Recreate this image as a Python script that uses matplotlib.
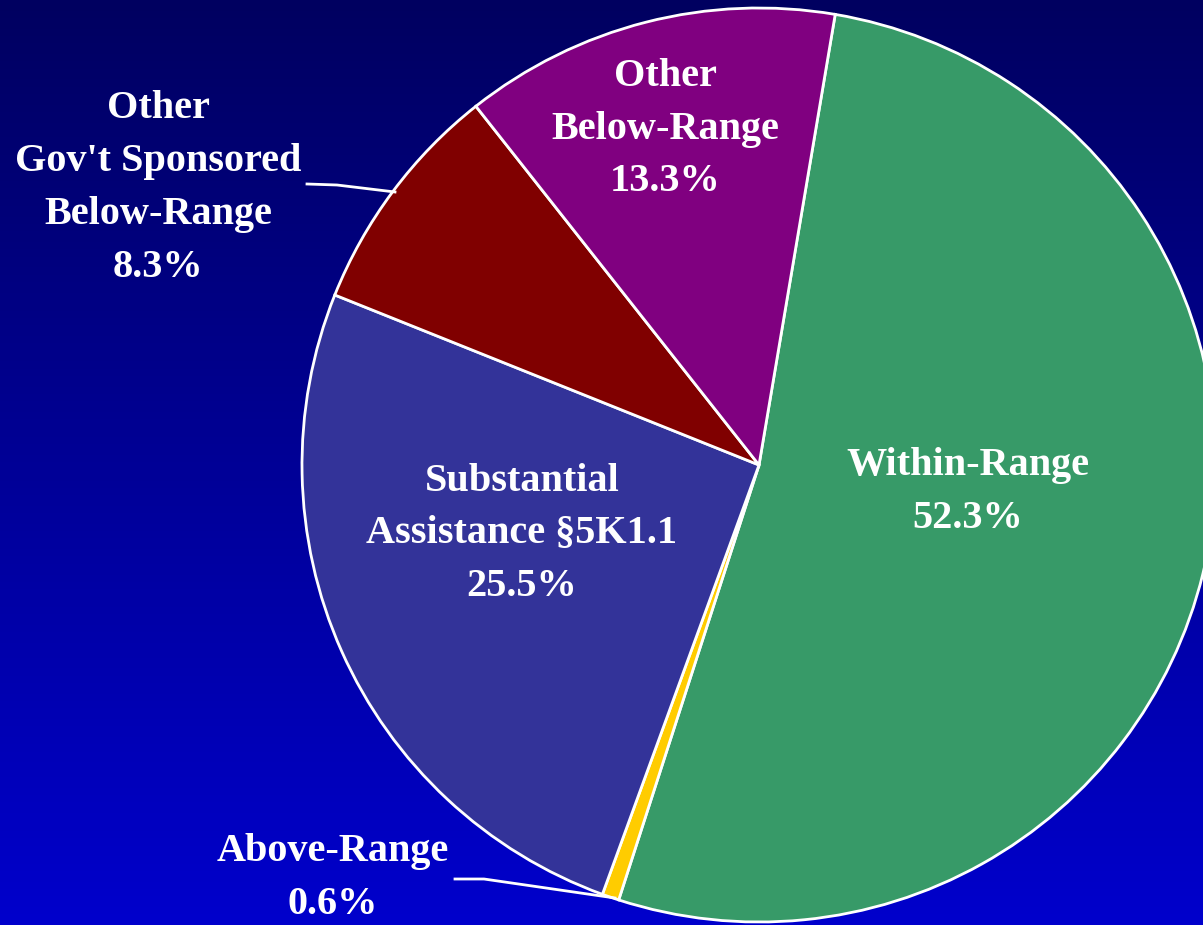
import matplotlib
matplotlib.use('Agg')
import matplotlib.pyplot as plt
import numpy as np

# slices, clockwise from the top
labels = ['Within-Range\n52.3%', 'Above-Range\n0.6%',
          'Substantial\nAssistance §5K1.1\n25.5%',
          "Other\nGov't Sponsored\nBelow-Range\n8.3%",
          'Other\nBelow-Range\n13.3%']
shares = [52.3, 0.6, 25.5, 8.3, 13.3]
colors = ['#379a68', '#ffcc00', '#333399', '#800000', '#800080']

W, H = 1203, 925
fig = plt.figure(figsize=(W / 100, H / 100), dpi=100)
ax = fig.add_axes([0, 0, 1, 1])

# background gradient, dark navy at top to blue at bottom
grad = np.linspace(0, 1, 256).reshape(-1, 1)
top = np.array([0x00, 0x00, 0x60]) / 255
bot = np.array([0x00, 0x00, 0xcc]) / 255
img = top + (bot - top) * grad[..., None]
ax.imshow(img, extent=[0, W, 0, H], origin='upper', aspect='auto', zorder=0)

cx, cy, r = 759, H - 465, 457
ax.pie(shares, colors=colors, startangle=80.4, counterclock=False,
       center=(cx, cy), radius=r, frame=True,
       wedgeprops=dict(edgecolor='white', linewidth=2, zorder=2))

txt = dict(color='white', fontsize=29, fontweight='bold', ha='center', va='center',
           family='Liberation Serif', linespacing=1.56, zorder=5)
ax.text(968, H - 492, labels[0], **txt)
ax.text(333, H - 878, labels[1], **txt)
ax.text(522, H - 534, labels[2], **txt)
ax.text(158, H - 188, labels[3], **txt)
ax.text(665, H - 129, labels[4], **txt)

# leader lines
ax.plot([307, 337, 395], [H - 184, H - 185, H - 192], color='white', lw=2, zorder=4)
ax.plot([455, 484, 615], [H - 879, H - 879, H - 898], color='white', lw=2, zorder=4)

ax.set_xlim(0, W)
ax.set_ylim(0, H)
ax.set_aspect('auto')
ax.axis('off')

fig.savefig('out.png', dpi=100)
